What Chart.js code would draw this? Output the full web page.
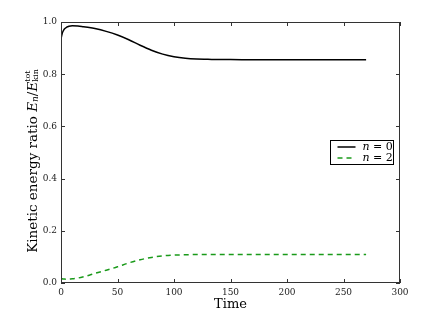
<!DOCTYPE html>
<html>
<head>
<meta charset="utf-8">
<script src="https://cdn.jsdelivr.net/npm/chart.js@4"></script>
<style>
  html, body { margin: 0; padding: 0; background: #fff; }
  #wrap { width: 436px; height: 327px; }
</style>
</head>
<body>
<div id="wrap"><canvas id="energyChart"></canvas></div>
<script>
// values
const times = [0, 1, 2, 3, 5, 7, 10, 15, 20, 25, 30, 40, 50, 60, 70, 80, 90, 100, 110, 120, 130, 140, 150, 170, 200, 230, 270];
const ratioN0 = [0.935, 0.955, 0.966, 0.973, 0.980, 0.984, 0.986, 0.985, 0.982, 0.979, 0.975, 0.964, 0.950, 0.932, 0.911, 0.892, 0.877, 0.867, 0.861, 0.858, 0.857, 0.856, 0.856, 0.855, 0.855, 0.855, 0.855];
const ratioN2 = [0.018, 0.016, 0.015, 0.015, 0.014, 0.015, 0.016, 0.019, 0.024, 0.030, 0.037, 0.049, 0.062, 0.077, 0.089, 0.098, 0.104, 0.107, 0.108, 0.109, 0.109, 0.109, 0.109, 0.109, 0.109, 0.109, 0.109];
const seriesLabels = ['n = 0', 'n = 2'];
const xTicks = [0, 50, 100, 150, 200, 250, 300];
const yTicks = [0.0, 0.2, 0.4, 0.6, 0.8, 1.0];

const serif = '"DejaVu Serif", "Liberation Serif", serif';
const frameColor = '#333';

function toPoints(xs, ys) {
    return xs.map((x, i) => ({ x: x, y: ys[i] }));
}

// frame with inward ticks on all four sides
const framePlugin = {
    id: 'frame',
    afterDatasetsDraw(chart) {
        const { ctx, chartArea: a, scales } = chart;
        ctx.save();
        ctx.strokeStyle = frameColor;
        ctx.lineWidth = 1;
        ctx.strokeRect(a.left + 0.5, a.top + 0.5, a.right - a.left - 1, a.bottom - a.top - 1);
        ctx.beginPath();
        xTicks.forEach(v => {
            const px = Math.round(scales.x.getPixelForValue(v)) + 0.5;
            ctx.moveTo(px, a.bottom); ctx.lineTo(px, a.bottom - 4);
            ctx.moveTo(px, a.top); ctx.lineTo(px, a.top + 4);
        });
        yTicks.forEach(v => {
            const py = Math.round(scales.y.getPixelForValue(v)) + 0.5;
            ctx.moveTo(a.left, py); ctx.lineTo(a.left + 4, py);
            ctx.moveTo(a.right, py); ctx.lineTo(a.right - 4, py);
        });
        ctx.stroke();
        ctx.restore();
    }
};

// y title with sub/superscripts: Kinetic energy ratio E_n / E_kin^tot
const yTitlePlugin = {
    id: 'yTitle',
    afterDraw(chart) {
        const { ctx } = chart;
        const parts = [
            { t: 'Kinetic energy ratio ', f: '13.5px ' + serif, dy: 0 },
            { t: 'E', f: 'italic 13.5px ' + serif, dy: 0 },
            { t: 'n', f: 'italic 9px ' + serif, dy: 3 },
            { t: '/', f: '13.5px ' + serif, dy: 0 },
            { t: 'E', f: 'italic 13.5px ' + serif, dy: 0 },
            { t: 'kin', f: '8px ' + serif, dy: 3, stackWith: 'tot' }
        ];
        ctx.save();
        let total = 0;
        parts.forEach(p => { ctx.font = p.f; p.w = ctx.measureText(p.t).width; total += p.w; });
        ctx.translate(33, 161);
        ctx.rotate(-Math.PI / 2);
        ctx.fillStyle = '#000';
        ctx.textBaseline = 'middle';
        ctx.textAlign = 'left';
        let x = -total / 2;
        parts.forEach(p => {
            ctx.font = p.f;
            ctx.fillText(p.t, x, p.dy);
            if (p.stackWith) ctx.fillText(p.stackWith, x, -5);
            x += p.w;
        });
        ctx.restore();
    }
};

// legend box inside the plot, right side
const legendPlugin = {
    id: 'boxLegend',
    afterDraw(chart) {
        const { ctx } = chart;
        const x0 = 330.5, y0 = 140.5, w = 63, h = 24;
        ctx.save();
        ctx.fillStyle = '#fff';
        ctx.fillRect(x0, y0, w, h);
        ctx.strokeStyle = '#000';
        ctx.lineWidth = 1;
        ctx.strokeRect(x0, y0, w, h);
        chart.data.datasets.forEach((ds, i) => {
            const cy = y0 + 6.5 + i * 11;
            ctx.strokeStyle = ds.borderColor;
            ctx.lineWidth = 1.5;
            ctx.setLineDash(ds.borderDash || []);
            ctx.beginPath();
            ctx.moveTo(x0 + 7, cy);
            ctx.lineTo(x0 + 25, cy);
            ctx.stroke();
            ctx.setLineDash([]);
            const [sym, rest] = ds.label.split(' = ');
            ctx.fillStyle = '#000';
            ctx.textBaseline = 'middle';
            ctx.font = 'italic 11px ' + serif;
            ctx.fillText(sym, x0 + 32, cy);
            const sw = ctx.measureText(sym).width;
            ctx.font = '11px ' + serif;
            ctx.fillText(' = ' + rest, x0 + 32 + sw, cy);
        });
        ctx.restore();
    }
};

new Chart(document.getElementById('energyChart'), {
    type: 'scatter',
    data: {
        datasets: [{
            label: seriesLabels[0],
            data: toPoints(times, ratioN0),
            showLine: true,
            borderColor: '#000000',
            borderWidth: 1.5,
            pointRadius: 0,
            cubicInterpolationMode: 'monotone'
        }, {
            label: seriesLabels[1],
            data: toPoints(times, ratioN2),
            showLine: true,
            borderColor: '#1a9a1a',
            borderWidth: 1.5,
            borderDash: [5, 4],
            pointRadius: 0,
            cubicInterpolationMode: 'monotone'
        }]
    },
    options: {
        responsive: true,
        maintainAspectRatio: false,
        animation: false,
        devicePixelRatio: 1,
        layout: { padding: { top: 22, right: 36, left: 0, bottom: 0 } },
        plugins: {
            legend: { display: false },
            tooltip: { enabled: false }
        },
        scales: {
            x: {
                type: 'linear',
                min: 0,
                max: 300,
                afterBuildTicks: s => { s.ticks = xTicks.map(v => ({ value: v })); },
                afterFit: s => { s.height = 44; },
                grid: { display: false, drawTicks: false },
                border: { display: false },
                ticks: {
                    color: '#222',
                    font: { family: serif, size: 9 },
                    padding: 4,
                    maxRotation: 0
                },
                title: {
                    display: true,
                    text: 'Time',
                    color: '#000',
                    font: { family: serif, size: 13 },
                    padding: { top: 0, bottom: 15 }
                }
            },
            y: {
                min: 0,
                max: 1,
                afterBuildTicks: s => { s.ticks = yTicks.map(v => ({ value: v })); },
                afterFit: s => { s.width = 61; },
                grid: { display: false, drawTicks: false },
                border: { display: false },
                ticks: {
                    color: '#222',
                    font: { family: serif, size: 9 },
                    padding: 4,
                    callback: v => Number(v).toFixed(1)
                }
            }
        }
    },
    plugins: [framePlugin, yTitlePlugin, legendPlugin]
});
</script>
</body>
</html>
